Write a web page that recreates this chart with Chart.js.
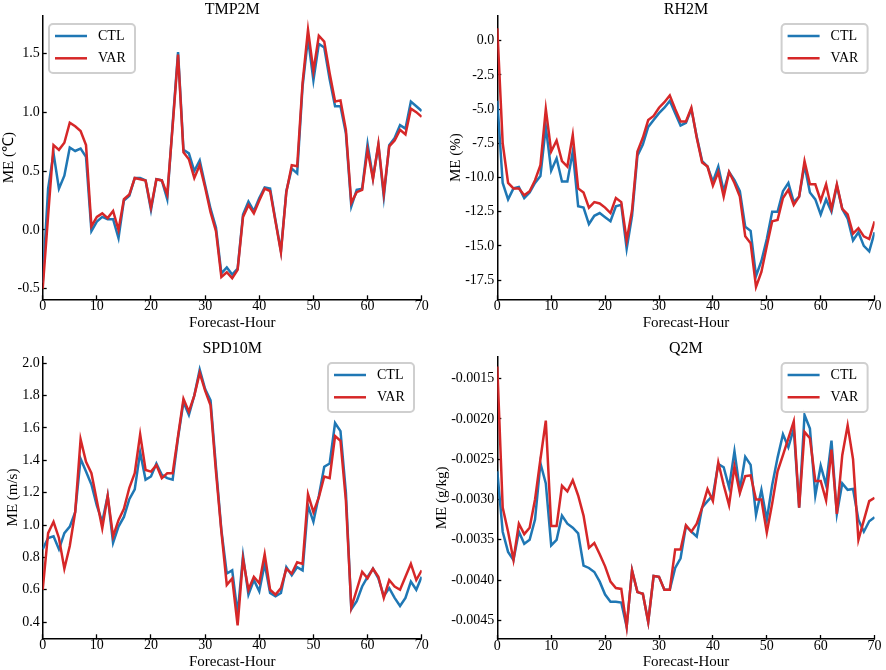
<!DOCTYPE html>
<html>
<head>
<meta charset="utf-8">
<script src="https://cdn.jsdelivr.net/npm/chart.js@4"></script>
<style>
  body { margin: 0; background: #fff; }
  canvas { position: absolute; }
</style>
</head>
<body>
<canvas id="tmp" width="443" height="335" style="left:0;top:0"></canvas>
<canvas id="rh" width="461" height="335" style="left:425px;top:0"></canvas>
<canvas id="spd" width="443" height="335" style="left:0;top:335px"></canvas>
<canvas id="q" width="461" height="335" style="left:425px;top:335px"></canvas>
<script>
var hours = [0,1,2,3,4,5,6,7,8,9,10,11,12,13,14,15,16,17,18,19,20,21,22,23,24,25,26,27,28,29,
    30,31,32,33,34,35,36,37,38,39,40,41,42,43,44,45,46,47,48,49,50,51,52,53,54,55,56,57,58,59,
    60,61,62,63,64,65,66,67,68,69,70];

var tmpCtl = [-0.45,0.35,0.65,0.35,0.46,0.70,0.67,0.69,0.62,-0.01,
    0.07,0.11,0.09,0.09,-0.07,0.25,0.29,0.44,0.44,0.42,
    0.17,0.43,0.42,0.26,0.90,1.51,0.68,0.65,0.50,0.59,
    0.38,0.18,0.02,-0.37,-0.32,-0.38,-0.33,0.13,0.24,0.16,
    0.27,0.36,0.35,0.08,-0.18,0.33,0.52,0.48,1.22,1.63,
    1.27,1.58,1.55,1.28,1.05,1.05,0.82,0.20,0.34,0.35,
    0.73,0.44,0.72,0.28,0.72,0.78,0.89,0.86,1.09,1.05,
    1.01];
var tmpVar = [-0.50,0.12,0.72,0.68,0.74,0.91,0.88,0.84,0.72,0.03,
    0.11,0.14,0.10,0.16,0.00,0.26,0.30,0.44,0.43,0.42,
    0.19,0.43,0.42,0.30,0.88,1.49,0.66,0.60,0.44,0.55,
    0.36,0.15,-0.01,-0.40,-0.36,-0.41,-0.34,0.11,0.21,0.14,
    0.25,0.35,0.33,0.07,-0.19,0.32,0.55,0.54,1.25,1.70,
    1.35,1.65,1.60,1.33,1.09,1.10,0.85,0.23,0.32,0.34,
    0.68,0.43,0.73,0.31,0.71,0.76,0.85,0.81,1.03,1.00,
    0.96];

var rhCtl = [-4.4,-10.4,-11.6,-10.8,-10.7,-11.5,-11.1,-10.4,-9.9,-6.3,
    -9.5,-8.6,-10.3,-10.3,-8.1,-12.1,-12.2,-13.4,-12.8,-12.6,
    -12.9,-13.2,-12.1,-12.0,-15.2,-12.8,-8.4,-7.6,-6.3,-5.8,
    -5.3,-4.9,-4.4,-5.3,-6.2,-6.0,-5.0,-7.0,-8.8,-9.2,
    -10.3,-9.2,-11.0,-9.6,-10.2,-11.0,-13.6,-13.9,-17.2,-16.1,
    -14.5,-12.5,-12.5,-11.0,-10.4,-11.8,-11.4,-9.1,-11.1,-11.6,
    -12.7,-11.6,-12.5,-10.6,-12.3,-13.0,-14.6,-14.0,-15.0,-15.4,
    -14.0];
var rhVar = [0.9,-7.5,-10.4,-10.8,-10.8,-11.3,-11.0,-10.2,-9.1,-5.0,
    -8.1,-7.3,-8.8,-9.2,-6.9,-10.8,-11.1,-12.2,-11.8,-11.9,
    -12.2,-12.6,-11.5,-11.8,-14.6,-12.4,-8.1,-7.1,-5.8,-5.5,
    -4.9,-4.5,-4.0,-5.0,-5.9,-5.9,-4.9,-7.1,-8.9,-9.2,
    -10.6,-9.6,-11.4,-9.6,-10.4,-11.4,-14.3,-14.8,-18.0,-16.9,
    -15.0,-13.2,-13.1,-11.5,-10.9,-12.0,-11.4,-8.8,-10.5,-10.5,
    -11.7,-10.5,-12.3,-10.5,-12.3,-12.7,-14.1,-13.7,-14.3,-14.5,
    -13.2];

var spdCtl = [0.85,0.92,0.93,0.85,0.95,0.99,1.08,1.41,1.33,1.25,
    1.12,1.02,1.18,0.89,0.99,1.05,1.16,1.22,1.45,1.28,
    1.30,1.38,1.31,1.29,1.28,1.54,1.76,1.68,1.80,1.96,
    1.84,1.77,1.36,0.97,0.70,0.72,0.45,0.81,0.57,0.66,
    0.59,0.76,0.58,0.56,0.58,0.74,0.69,0.74,0.72,1.12,
    1.02,1.18,1.36,1.38,1.63,1.58,1.20,0.48,0.53,0.62,
    0.68,0.73,0.67,0.56,0.61,0.55,0.50,0.55,0.65,0.60,
    0.68];
var spdVar = [0.60,0.95,1.02,0.92,0.73,0.87,1.08,1.53,1.39,1.32,
    1.15,0.98,1.18,0.93,1.03,1.10,1.23,1.32,1.56,1.34,
    1.33,1.37,1.29,1.32,1.32,1.55,1.78,1.70,1.80,1.94,
    1.83,1.74,1.33,0.96,0.63,0.67,0.38,0.79,0.60,0.68,
    0.64,0.82,0.60,0.57,0.61,0.73,0.70,0.77,0.76,1.19,
    1.08,1.17,1.30,1.29,1.55,1.52,1.15,0.49,0.60,0.71,
    0.67,0.73,0.68,0.55,0.66,0.62,0.60,0.68,0.76,0.66,
    0.72];

var qCtl = [-0.00265,-0.0034,-0.00365,-0.00375,-0.0034,-0.00355,-0.0035,-0.00325,-0.00255,-0.0028,
    -0.00357,-0.0035,-0.0032,-0.0033,-0.00335,-0.00342,-0.00382,-0.00385,-0.0039,-0.00402,
    -0.00418,-0.00427,-0.00427,-0.00428,-0.00458,-0.00388,-0.00415,-0.00417,-0.00452,-0.00395,
    -0.00396,-0.00412,-0.00412,-0.00385,-0.00373,-0.00333,-0.0034,-0.00346,-0.0031,-0.00302,
    -0.00295,-0.00256,-0.0026,-0.00285,-0.0024,-0.00288,-0.00247,-0.00257,-0.00319,-0.00288,
    -0.00325,-0.00282,-0.00248,-0.00219,-0.00235,-0.00212,-0.0031,-0.00195,-0.00212,-0.00295,
    -0.00258,-0.00282,-0.00227,-0.00318,-0.0028,-0.00288,-0.00287,-0.00325,-0.0034,-0.00327,
    -0.00322];
var qVar = [-0.00135,-0.0031,-0.0034,-0.00375,-0.0033,-0.00343,-0.00335,-0.0030,-0.0025,-0.00202,
    -0.00333,-0.00333,-0.00283,-0.0029,-0.00276,-0.00295,-0.0032,-0.0036,-0.00354,-0.00368,
    -0.00383,-0.00402,-0.0041,-0.00411,-0.00458,-0.00388,-0.00415,-0.00417,-0.00452,-0.00395,
    -0.00396,-0.00412,-0.00412,-0.00362,-0.00362,-0.00332,-0.0034,-0.0033,-0.0031,-0.00287,
    -0.00302,-0.00254,-0.00282,-0.00307,-0.00259,-0.00292,-0.00271,-0.0027,-0.0030,-0.0030,
    -0.00341,-0.00305,-0.00265,-0.00245,-0.00224,-0.00203,-0.0031,-0.00216,-0.00224,-0.00277,
    -0.00277,-0.00301,-0.00238,-0.00318,-0.00245,-0.00208,-0.0025,-0.0035,-0.00326,-0.00302,
    -0.00298];

var serif = "'Liberation Serif', 'Times New Roman', serif";
Chart.defaults.font.family = serif;
Chart.defaults.color = '#000';

// panel title centred over the plot, and a framed legend inside it
var panelDecor = {
    id: 'panelDecor',
    afterDatasetsDraw: function(chart, args, opts) {
        var ctx = chart.ctx, area = chart.chartArea;
        var w = 86, h = 49;
        var x = opts.side === 'left' ? area.left + opts.dx : area.right - opts.dx - w;
        var y = area.top + opts.dy;
        ctx.save();
        ctx.fillStyle = '#000';
        ctx.font = '16px ' + serif;
        ctx.textAlign = 'center';
        ctx.textBaseline = 'middle';
        ctx.fillText(opts.title, (area.left + area.right) / 2, opts.titleY);

        ctx.beginPath();
        ctx.roundRect(x, y, w, h, 4);
        ctx.fillStyle = 'rgba(255,255,255,0.85)';
        ctx.fill();
        ctx.strokeStyle = '#cfcfcf';
        ctx.lineWidth = 2;
        ctx.stroke();
        ctx.textAlign = 'left';
        ctx.font = '14px ' + serif;
        chart.data.datasets.forEach(function(ds, i) {
            var ly = y + 12 + i * 22.3;
            ctx.strokeStyle = ds.borderColor;
            ctx.lineWidth = ds.borderWidth;
            ctx.beginPath();
            ctx.moveTo(x + 6, ly);
            ctx.lineTo(x + 38, ly);
            ctx.stroke();
            ctx.fillStyle = '#000';
            ctx.fillText(ds.label, x + 49, ly);
        });
        ctx.restore();
    }
};

function makePanel(id, title, yTitle, ctl, vr, yMin, yMax, yStep, decimals, lay) {
    new Chart(document.getElementById(id), {
        type: 'line',
        data: {
            labels: hours,
            datasets: [{
                label: 'CTL',
                data: ctl,
                borderColor: '#1f77b4',
                borderWidth: 2.5,
                pointRadius: 0,
                tension: 0,
                order: 2
            }, {
                label: 'VAR',
                data: vr,
                borderColor: '#d62728',
                borderWidth: 2.5,
                pointRadius: 0,
                tension: 0,
                order: 1
            }]
        },
        options: {
            responsive: false,
            animation: false,
            layout: { padding: { left: 0, right: lay.padRight, top: lay.top, bottom: 0 } },
            plugins: {
                legend: { display: false },
                tooltip: { enabled: false },
                panelDecor: {
                    title: title,
                    titleY: lay.titleY,
                    side: lay.side,
                    dx: lay.dx,
                    dy: lay.dy
                }
            },
            scales: {
                x: {
                    type: 'linear',
                    min: 0,
                    max: 70,
                    afterFit: function(s) { s.height = lay.xHeight; },
                    border: { color: '#000', width: 1.5 },
                    grid: { drawOnChartArea: false, tickLength: -4, tickColor: '#000', tickWidth: 1.3 },
                    ticks: { stepSize: 10, padding: 4.4, maxRotation: 0, font: { size: 14, lineHeight: 1 } },
                    title: {
                        display: true,
                        text: 'Forecast-Hour',
                        font: { size: 15, lineHeight: 1 },
                        padding: { top: 0, bottom: lay.xTitlePad }
                    }
                },
                y: {
                    min: yMin,
                    max: yMax,
                    afterFit: function(s) { s.width = lay.yWidth; },
                    border: { color: '#000', width: 1.5 },
                    grid: { drawOnChartArea: false, tickLength: -4, tickColor: '#000', tickWidth: 1.3 },
                    ticks: {
                        stepSize: yStep,
                        includeBounds: false,
                        padding: 7,
                        font: { size: 14 },
                        callback: function(v) { return v.toFixed(decimals); }
                    },
                    title: {
                        display: true,
                        text: yTitle,
                        font: { size: 15, lineHeight: 1 },
                        padding: { top: lay.yTitlePad, bottom: 0 }
                    }
                }
            }
        },
        plugins: [panelDecor]
    });
}

makePanel('tmp', 'TMP2M', 'ME (\u2103)', tmpCtl, tmpVar, -0.59, 1.817, 0.5, 1, {
    padRight: 21.3, top: 16, titleY: 9.5, yWidth: 42.7, xHeight: 35.7,
    yTitlePad: 1.8, xTitlePad: 4.8, side: 'left', dx: 6.3, dy: 8
});
makePanel('rh', 'RH2M', 'ME (%)', rhCtl, rhVar, -18.9, 1.8, 2.5, 1, {
    padRight: 9, top: 16, titleY: 9.5, yWidth: 72.3, xHeight: 35.7,
    yTitlePad: 23.2, xTitlePad: 4.8, side: 'right', dx: 7, dy: 8
});
makePanel('spd', 'SPD10M', 'ME (m/s)', spdCtl, spdVar, 0.30, 2.04, 0.2, 1, {
    padRight: 21.3, top: 21.7, titleY: 13.5, yWidth: 42.7, xHeight: 31.7,
    yTitlePad: 5.2, xTitlePad: 0, side: 'right', dx: 7.7, dy: 6.3
});
makePanel('q', 'Q2M', 'ME (g/kg)', qCtl, qVar, -0.004732, -0.001227, 0.0005, 4, {
    padRight: 9, top: 21.7, titleY: 13.5, yWidth: 72.3, xHeight: 31,
    yTitlePad: 9.2, xTitlePad: 0, side: 'right', dx: 7, dy: 6.3
});
</script>
</body>
</html>
